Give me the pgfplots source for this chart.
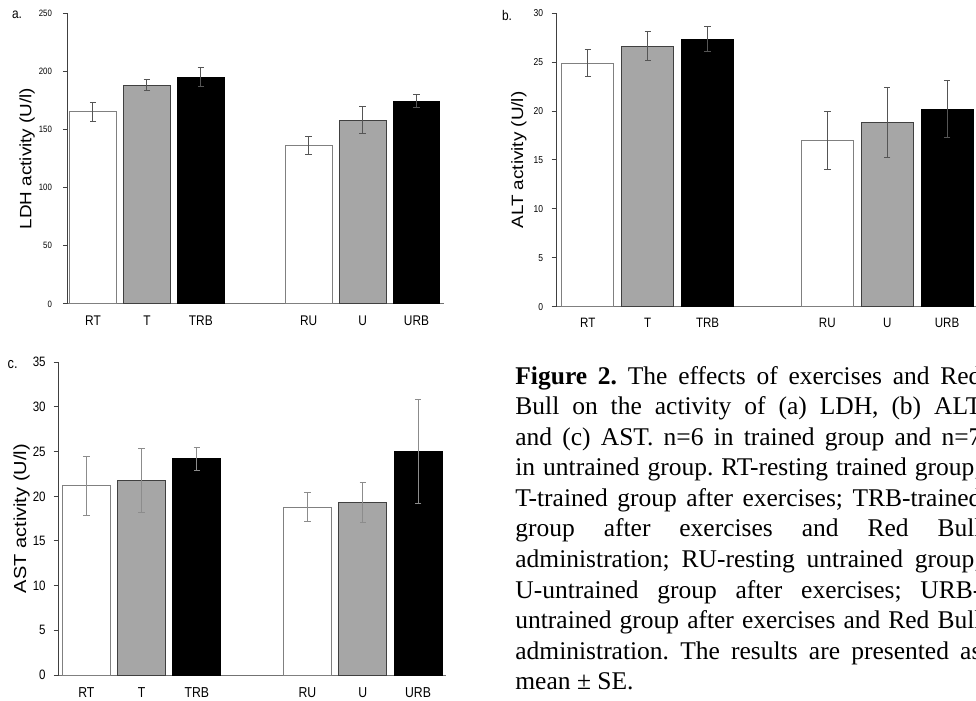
\documentclass[border=0pt]{standalone}
\usepackage{fontspec}
\setmainfont{Liberation Sans}
\newfontfamily\cf[FakeStretch=0.85]{Liberation Sans}
\newfontfamily\yf[FakeStretch=1.15]{Liberation Sans}
\newfontfamily\capfont{Liberation Serif}
\usepackage{pgfplots}
\pgfplotsset{compat=1.18}
\definecolor{barg}{HTML}{A6A6A6}
\definecolor{edge}{HTML}{404040}
\definecolor{wedge}{HTML}{808080}
\definecolor{errc}{HTML}{555555}
\definecolor{errl}{HTML}{8C8C8C}
\pgfplotsset{
  panel/.style={
    scale only axis, axis x line*=bottom, axis y line*=left,
    x axis line style={color=black!55, line width=0.5pt},
    y axis line style={color=black!75, line width=0.5pt},
    xtick={0,1,2,4,5,6}, xticklabels={RT,T,TRB,RU,U,URB},
    xtick style={draw=none}, tick align=outside, ytick pos=left,
    major tick length=2.5pt,
    ytick style={color=black!75, line width=0.5pt},
    ymin=0, /pgf/number format/assume math mode=true,
    clip=false,
  },
  wbar/.style={ybar, bar shift=0pt, bar width=0.87, fill=white, draw=wedge, line width=0.5pt},
  gbar/.style={ybar, bar shift=0pt, bar width=0.87, fill=barg, draw=edge, line width=0.5pt},
  kbar/.style={ybar, bar shift=0pt, bar width=0.87, fill=black, draw=black, line width=0.5pt},
  eb/.style={error bars/.cd, y dir=both, y explicit,
    error bar style={line width=0.5pt, draw=#1},
    error mark options={rotate=90, mark size=1.6pt, line width=0.5pt, draw=#1}},
}
\begin{document}
\begin{tikzpicture}
\useasboundingbox (0,0) rectangle (488pt,-350.5pt);

% ---------- panel a ----------
\begin{axis}[panel,
  at={(34pt,-152pt)}, anchor=south west,
  width=188pt, height=145.5pt,
  xmin=-0.463, xmax=6.51, ymax=250, ytick={0,50,...,250},
  yticklabel style={font=\cf\fontsize{4.6}{5}\selectfont, xshift=-2pt},
  xticklabel style={font=\cf\fontsize{7}{8}\selectfont, anchor=center, yshift=-6pt},
  ylabel={LDH activity (U/l)},
  every axis y label/.style={at={(axis description cs:-0.109,0.5)}, rotate=90, anchor=center, font=\yf\fontsize{8.2}{9}\selectfont},
]
\addplot[wbar, eb=errc] coordinates {(0,165) +- (0,8) (4,136.3) +- (0,8)};
\addplot[gbar, eb=errc] coordinates {(1,188) +- (0,5) (5,157.8) +- (0,11.5)};
\addplot[kbar, eb=errc] coordinates {(2,195) +- (0,8.3) (6,174.4) +- (0,5.2)};
\end{axis}

% ---------- panel b ----------
\begin{axis}[panel,
  at={(278.35pt,-153.35pt)}, anchor=south west,
  width=210.15pt, height=146.7pt,
  xmin=-0.52, xmax=6.5, ymax=30, ytick={0,5,...,30},
  yticklabel style={font=\cf\fontsize{5}{6}\selectfont, xshift=-0.8pt},
  xticklabel style={font=\cf\fontsize{6.8}{8}\selectfont, anchor=center, yshift=-5.8pt},
  ylabel={ALT activity (U/l)},
  every axis y label/.style={at={(axis description cs:-0.0897,0.5)}, rotate=90, anchor=center, font=\yf\fontsize{8.2}{9}\selectfont},
]
\addplot[wbar, eb=errc] coordinates {(0,24.9) +- (0,1.35) (4,17.0) +- (0,3.0)};
\addplot[gbar, eb=errc] coordinates {(1,26.65) +- (0,1.45) (5,18.85) +- (0,3.6)};
\addplot[kbar, eb=errc] coordinates {(2,27.35) +- (0,1.3) (6,20.2) +- (0,2.9)};
\end{axis}

% ---------- panel c ----------
\begin{axis}[panel,
  at={(29.35pt,-337.5pt)}, anchor=south west,
  width=193.5pt, height=156.35pt,
  xmin=-0.5, xmax=6.5, ymax=35, ytick={0,5,...,35},
  yticklabel style={font=\cf\fontsize{6.8}{8}\selectfont, xshift=-0.5pt},
  xticklabel style={font=\cf\fontsize{7.2}{8}\selectfont, anchor=center, yshift=-6.3pt},
  ylabel={AST activity (U/l)},
  every axis y label/.style={at={(axis description cs:-0.096,0.5)}, rotate=90, anchor=center, font=\yf\fontsize{8.7}{10}\selectfont},
]
\addplot[wbar, eb=errl] coordinates {(0,21.2) +- (0,3.3) (4,18.8) +- (0,1.6)};
\addplot[gbar, eb=errl] coordinates {(1,21.75) +- (0,3.6) (5,19.3) +- (0,2.2)};
\addplot[kbar, eb=errl] coordinates {(2,24.2) +- (0,1.3) (6,25.0) +- (0,5.8)};
\end{axis}

% panel letters
\node[anchor=base west, inner sep=0pt, font=\cf\fontsize{7}{8}\selectfont] at (5.85pt,-9.15pt) {a.};
\node[anchor=base west, inner sep=0pt, font=\cf\fontsize{7}{8}\selectfont] at (250.85pt,-10.35pt) {b.};
\node[anchor=base west, inner sep=0pt, font=\cf\fontsize{7.5}{8}\selectfont] at (3.65pt,-184.15pt) {c.};

% caption
\node[anchor=base west, inner sep=0pt, text width=233pt, align=justify,
      font=\capfont\fontsize{12.75}{15.3}\selectfont\frenchspacing] at (257.5pt,-192pt)
{\textbf{Figure 2.} The effects of exercises and Red\linebreak
Bull on the activity of (a) LDH, (b) ALT\linebreak
and (c) AST. n=6 in trained group and n=7\linebreak
in untrained group. RT-resting trained group;\linebreak
T-trained group after exercises; TRB-trained\linebreak
group after exercises and Red Bull\linebreak
administration; RU-resting untrained group;\linebreak
U-untrained group after exercises; URB-\linebreak
untrained group after exercises and Red Bull\linebreak
administration. The results are presented as\linebreak
mean \textpm{} SE.};
\end{tikzpicture}
\end{document}
